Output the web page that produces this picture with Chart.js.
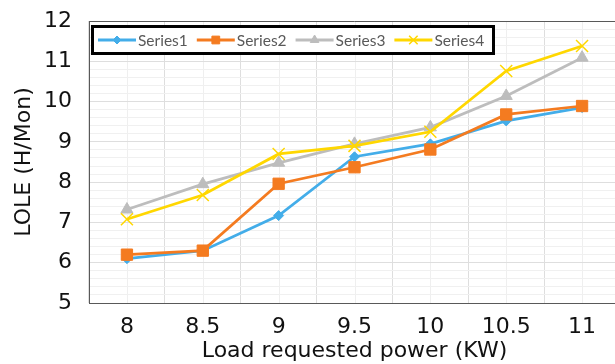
<!DOCTYPE html>
<html>
<head>
<meta charset="utf-8">
<script src="https://cdn.jsdelivr.net/npm/chart.js@4.4.1/dist/chart.umd.min.js"></script>
<style>
  html, body { margin: 0; padding: 0; background: #fff; overflow: hidden; }
  #wrap { width: 615px; height: 364px; overflow: hidden; }
  canvas { display: block; }
</style>
</head>
<body>
<div id="wrap"><canvas id="loleChart" width="630" height="364"></canvas></div>
<script>
// Công suất tải yêu cầu (KW) trên trục X
const loadLabels = ['8', '8.5', '9', '9.5', '10', '10.5', '11'];

// LOLE (H/Mon) cho từng chuỗi
const series1 = [6.1, 6.3, 7.17, 8.63, 8.95, 9.52, 9.85];
const series2 = [6.2, 6.3, 7.96, 8.37, 8.81, 9.68, 9.89];
const series3 = [7.32, 7.95, 8.48, 8.95, 9.36, 10.14, 11.09];
const series4 = [7.08, 7.68, 8.7, 8.9, 9.25, 10.76, 11.38];

const seriesNames = ['Series1', 'Series2', 'Series3', 'Series4'];

// khung trục Y: 5 -> 12, lưới phụ mỗi 0.2
const yMin = 5;
const yMax = 12;
const yMinorStep = 0.2;

const isWhole = v => Math.abs(v - Math.round(v)) < 1e-6;

// lưới dọc mờ tại tâm mỗi hạng mục + đường viền trên của vùng vẽ
const frameGrid = {
    id: 'frameGrid',
    beforeDraw(chart) {
        const { ctx, chartArea: a, scales: { x } } = chart;
        ctx.save();
        ctx.strokeStyle = '#efefef';
        ctx.lineWidth = 1;
        loadLabels.forEach((_, i) => {
            const px = Math.round(x.getPixelForValue(i)) + 0.5;
            ctx.beginPath();
            ctx.moveTo(px, a.top);
            ctx.lineTo(px, a.bottom);
            ctx.stroke();
        });
        ctx.restore();
    },
    beforeDatasetsDraw(chart) {
        const { ctx, chartArea: a } = chart;
        ctx.save();
        ctx.strokeStyle = '#595959';
        ctx.lineWidth = 1;
        ctx.beginPath();
        ctx.moveTo(a.left, a.top + 0.5);
        ctx.lineTo(a.right, a.top + 0.5);
        ctx.stroke();
        ctx.restore();
    }
};

// chú giải tự vẽ: khung viền đen dày, mẫu đường có điểm ở giữa
const boxLegend = {
    id: 'boxLegend',
    afterDraw(chart) {
        const ctx = chart.ctx;
        const cy = 40;
        ctx.save();
        ctx.fillStyle = '#fff';
        ctx.fillRect(91, 25, 404, 30);
        ctx.strokeStyle = '#000';
        ctx.lineWidth = 3;
        ctx.strokeRect(92.5, 26.5, 401, 27);

        ctx.font = '15.5px Lato';
        ctx.textBaseline = 'middle';
        ctx.textAlign = 'left';
        let x = 98;
        chart.data.datasets.forEach(ds => {
            ctx.strokeStyle = ds.borderColor;
            ctx.lineWidth = 3;
            ctx.beginPath();
            ctx.moveTo(x, cy);
            ctx.lineTo(x + 38, cy);
            ctx.stroke();

            if (Chart.helpers && Chart.helpers.drawPoint) {
                ctx.fillStyle = ds.pointBackgroundColor;
                ctx.strokeStyle = ds.pointBorderColor;
                ctx.lineWidth = ds.pointBorderWidth;
                Chart.helpers.drawPoint(ctx, {
                    pointStyle: ds.pointStyle,
                    radius: ds.legendRadius,
                    rotation: 0,
                    borderWidth: ds.pointBorderWidth
                }, x + 19, cy);
            }

            ctx.fillStyle = '#595959';
            ctx.fillText(ds.label, x + 40, cy + 1);
            x += 40 + ctx.measureText(ds.label).width + 9;
        });
        ctx.restore();
    }
};

function makeSeries(label, data, color, style, radius, legendRadius, borderW, order) {
    return {
        label: label,
        data: data,
        borderColor: color,
        backgroundColor: color,
        borderWidth: 2.75,
        tension: 0,
        pointStyle: style,
        pointRadius: radius,
        pointBackgroundColor: color,
        pointBorderColor: color,
        pointBorderWidth: borderW,
        legendRadius: legendRadius,
        order: order
    };
}

const axisFont = { family: 'DejaVu Sans', size: 22 };

new Chart(document.getElementById('loleChart').getContext('2d'), {
    type: 'line',
    data: {
        labels: loadLabels,
        datasets: [
            makeSeries(seriesNames[0], series1, '#43ADE9', 'rectRot', 5, 4, 1, 4),
            makeSeries(seriesNames[1], series2, '#F47B20', 'rect', 8, 5.5, 1, 3),
            makeSeries(seriesNames[2], series3, '#BDBDBD', 'triangle', 7, 5, 1, 2),
            makeSeries(seriesNames[3], series4, '#FFD700', 'crossRot', 8.5, 6, 1.5, 1)
        ]
    },
    options: {
        responsive: false,
        animation: false,
        events: [],
        layout: { padding: { top: 21, right: 3, left: 0, bottom: 0 } },
        scales: {
            x: {
                type: 'category',
                offset: true,
                grid: { offset: true, color: '#dedede', drawTicks: false },
                border: { color: '#595959', width: 1 },
                ticks: { font: axisFont, color: '#111', padding: 11, maxRotation: 0 },
                title: {
                    display: true,
                    text: 'Load requested power (KW)',
                    font: axisFont,
                    color: '#111',
                    padding: { top: 0, bottom: 0 }
                },
                afterFit(scale) {
                    scale.height = 61;
                    scale.paddingLeft = 0;
                    scale.paddingRight = 0;
                }
            },
            y: {
                min: yMin,
                max: yMax,
                grid: {
                    drawTicks: false,
                    color: ctx => isWhole(ctx.tick.value) ? '#dedede' : '#f0f0f0'
                },
                border: { color: '#595959', width: 1 },
                ticks: {
                    stepSize: yMinorStep,
                    autoSkip: false,
                    font: axisFont,
                    color: '#111',
                    padding: 17,
                    callback: v => isWhole(v) ? String(Math.round(v)) : ''
                },
                title: {
                    display: true,
                    text: 'LOLE (H/Mon)',
                    font: axisFont,
                    color: '#111',
                    padding: { top: 11, bottom: 0 }
                },
                afterFit(scale) {
                    // nhãn trục Y không đẩy vùng vẽ xuống
                    scale.width = 89;
                    scale.paddingTop = 0;
                    scale.paddingBottom = 0;
                }
            }
        },
        plugins: {
            legend: { display: false },
            tooltip: { enabled: false }
        }
    },
    plugins: [frameGrid, boxLegend]
});
</script>
</body>
</html>
